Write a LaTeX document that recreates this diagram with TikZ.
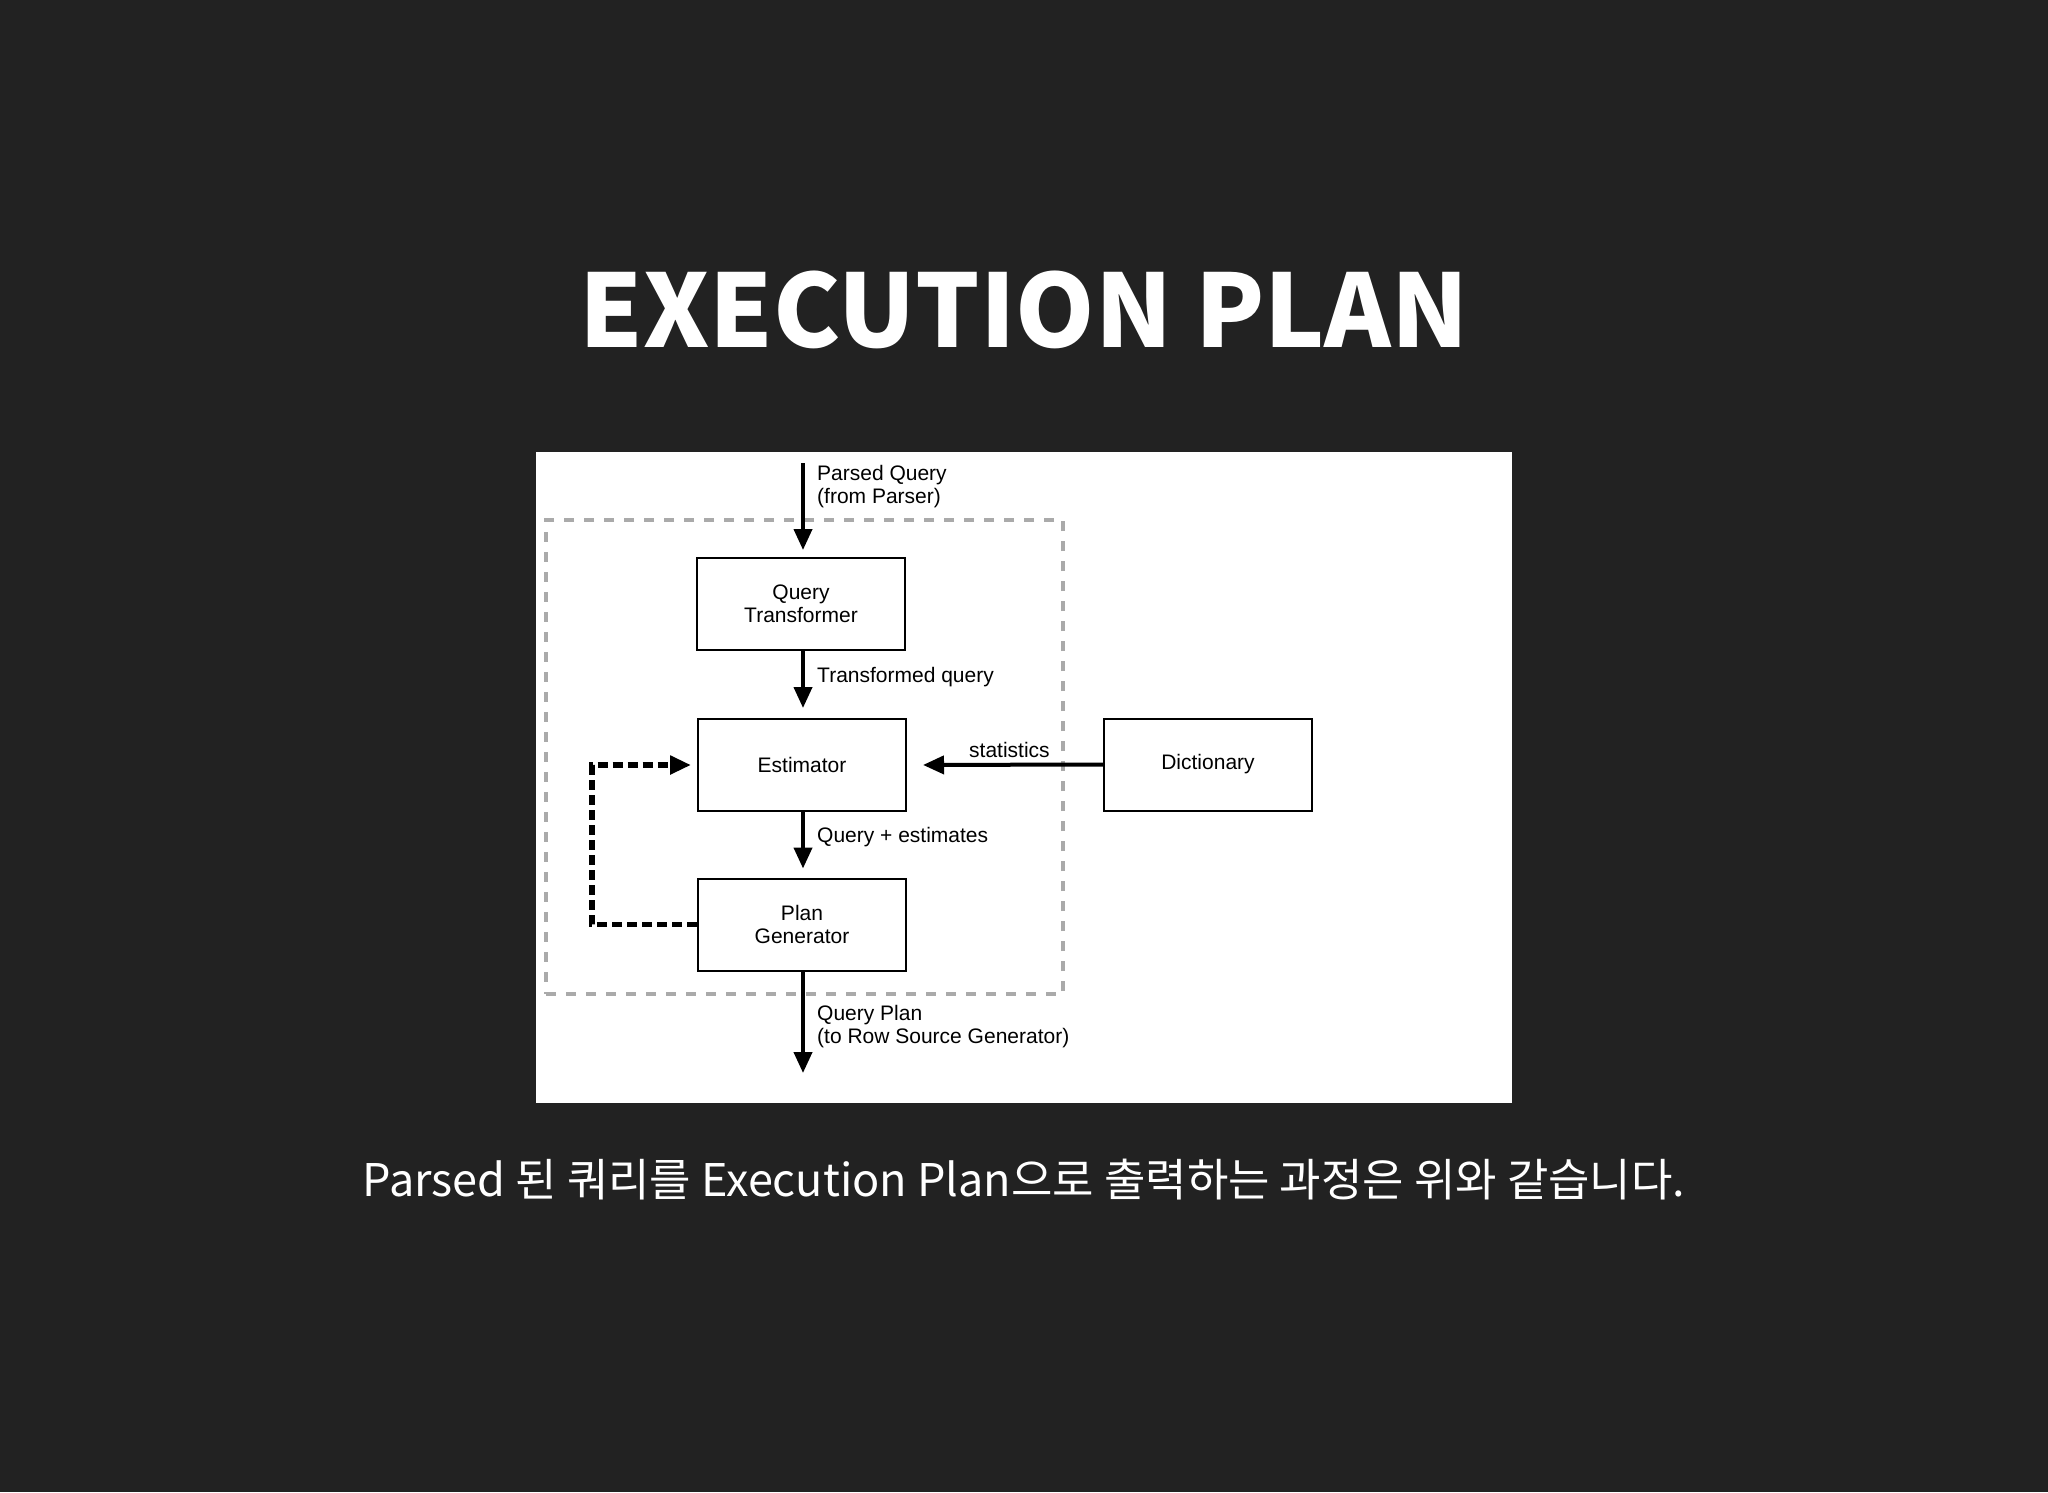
\documentclass[tikz,border=0pt]{standalone}
\usepackage{fontspec}
\usepackage{tikz}
\newfontfamily\cjk{Noto Sans CJK KR}
\newfontfamily\helv{Liberation Sans}
\usetikzlibrary{arrows.meta, positioning, calc}
\definecolor{slidebg}{HTML}{222222}
\definecolor{framegray}{HTML}{AAAAAA}
\tikzstyle{block} = [rectangle, draw=black, line width=2pt, minimum width=208pt, minimum height=92pt, align=center, font=\helv\fontsize{21}{23}\selectfont]
\tikzstyle{lbl} = [anchor=base west, align=left, inner sep=0pt, font=\helv\fontsize{21}{22.5}\selectfont]
\tikzstyle{arrow} = [line width=4pt, -{Triangle[length=21pt,width=18pt]}]
\tikzstyle{feedback} = [line width=5.5pt, dash pattern=on 10pt off 5pt, -{Triangle[length=21pt,width=18pt]}]

\begin{document}
\begin{tikzpicture}[x=1pt, y=-1pt]
\useasboundingbox (0,0) rectangle (2048,1492);
\fill[slidebg] (0,0) rectangle (2048,1492);

  \node[font=\cjk\bfseries\fontsize{101}{112}\selectfont, text=white, anchor=base] (title) at (1024,347) {EXECUTION PLAN};

  % diagram panel
  \fill[white] (536,452) rectangle (1512,1103);
  \node[draw=framegray, line width=3.5pt, dash pattern=on 10pt off 10pt, minimum width=517pt, minimum height=474pt] (optimizer) at (804.5,757) {};

  \node[block] (transformer) at (801,604) {Query\\Transformer};
  \node[block] (estimator) at (802,765) {Estimator};
  \node[block] (generator) at (802,924.5) {Plan\\Generator};
  \node[block] (dictionary) at (1208,764.5) {Dictionary};

  \coordinate (parsed) at (803,463);
  \coordinate (plan) at (803,1073);

  \draw[arrow, shorten >=7pt] (parsed) -- (parsed |- transformer.north);
  \draw[arrow, shorten >=10pt] (transformer.south -| parsed) -- (estimator.north -| parsed);
  \draw[arrow, shorten >=9pt] (estimator.south -| parsed) -- (generator.north -| parsed);
  \draw[arrow] (generator.south -| parsed) -- (plan);
  \draw[arrow, shorten >=16pt] (dictionary.west) -- (estimator.east);
  \draw[feedback, shorten >=6pt] (generator.west) -- ++(-105,0) |- (estimator.west);

  \node[lbl] (parsedlbl) at (817,503) {Parsed Query\\(from Parser)};
  \node[lbl] (transformedlbl) at (817,682) {Transformed query};
  \node[lbl] (statslbl) at (969,757) {statistics};
  \node[lbl] (estimateslbl) at (817,842) {Query + estimates};
  \node[lbl] (planlbl) at (817,1043) {Query Plan\\(to Row Source Generator)};

  \node[font=\cjk\fontsize{45}{50}\selectfont, text=white, anchor=base] (caption) at (1024,1196) {Parsed 된 쿼리를 Execution Plan으로 출력하는 과정은 위와 같습니다.};

\end{tikzpicture}
\end{document}
